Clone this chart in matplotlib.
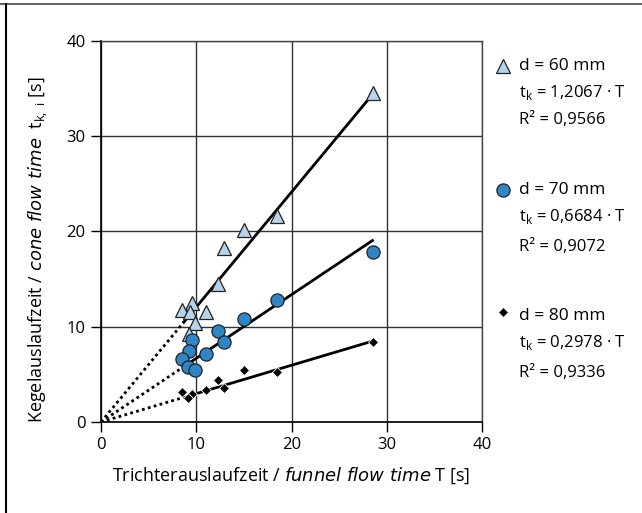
import matplotlib.pyplot as plt
from matplotlib.lines import Line2D

plt.rcParams['font.family'] = ['Open Sans', 'DejaVu Sans']

# d = 60 mm (triangles)
t60 = [28.6, 18.5, 15.05, 12.95, 12.3, 9.52, 8.47, 9.3, 11.0, 9.87, 9.2]
k60 = [34.5, 21.6, 20.2, 18.3, 14.5, 12.5, 11.8, 11.5, 11.6, 10.4, 9.2]
# d = 70 mm (circles)
t70 = [28.6, 18.5, 15.05, 12.3, 12.95, 11.0, 9.6, 9.24, 8.54, 9.17, 9.87]
k70 = [17.8, 12.8, 10.85, 9.6, 8.4, 7.1, 8.6, 7.5, 6.6, 5.8, 5.5]
# d = 80 mm (diamonds)
t80 = [28.6, 18.5, 15.05, 12.3, 12.95, 11.0, 8.54, 9.52, 9.17]
k80 = [8.4, 5.3, 5.5, 4.4, 3.6, 3.35, 3.1, 2.95, 2.5]

slopes = [1.2067, 0.6684, 0.2978]
r2 = ["0,9566", "0,9072", "0,9336"]
diam = [60, 70, 80]
fit_start = [8.7, 9.2, 9.5]
fit_end = [28.2, 28.5, 28.5]

fig = plt.figure(figsize=(6.42, 5.13), dpi=100)
ax = fig.add_axes([0.1573, 0.1774, 0.5935, 0.7427])

series = [
    (t60, k60, dict(marker='^', ms=10, mfc='#b5d3ea', mec='#222222', mew=0.9)),
    (t70, k70, dict(marker='o', ms=9.5, mfc='#2f86c6', mec='#222222', mew=0.9)),
    (t80, k80, dict(marker='D', ms=5.5, mfc='black', mec='white', mew=0.6)),
]

for i, (tx, ky, style) in enumerate(series):
    a, b = fit_start[i], fit_end[i]
    ax.plot([0, a], [0, slopes[i] * a], color='black', lw=2, ls=(0, (1, 1.2)), zorder=3)
    ax.plot([a, b], [slopes[i] * a, slopes[i] * b], color='black', lw=2, zorder=3)
    ax.plot(tx, ky, ls='none', zorder=4, **style)

ax.set_xlim(0, 40)
ax.set_ylim(0, 40)
ax.set_xticks([0, 10, 20, 30, 40])
ax.set_yticks([0, 10, 20, 30, 40])
ax.grid(True, color='#333333', lw=1)
ax.set_axisbelow(True)
for s in ['top', 'right']:
    ax.spines[s].set_color('#444444')
    ax.spines[s].set_linewidth(1)
for s in ['left', 'bottom']:
    ax.spines[s].set_color('black')
    ax.spines[s].set_linewidth(1.2)
ax.tick_params(direction='out', length=7, width=1, labelsize=12, pad=4)

ax.set_xlabel('Trichterauslaufzeit / $\\it{funnel\\ flow\\ time}$ T [s]', fontsize=13, labelpad=9)
ax.set_ylabel('Kegelauslaufzeit / $\\it{cone\\ flow\\ time}$  t$_\\mathregular{k,\\ i}$ [s]',
              fontsize=13, va='center')
ax.yaxis.set_label_coords(-0.165, 0.451)

# legend block on the right
W, H = 642, 513
blocks = [(66, 93, 120), (190, 217, 247), (316, 343, 373)]
for i, (y1, y2, y3) in enumerate(blocks):
    st = series[i][2]
    fig.add_artist(Line2D([503 / W], [1 - (y1 if i < 2 else y1 - 4) / H], ls='none',
                          transform=fig.transFigure, **st))
    fig.text(519 / W, 1 - y1 / H, f'd = {diam[i]} mm', fontsize=12.5, va='center')
    fig.text(519 / W, 1 - y2 / H,
             't$_\\mathregular{k}$ = ' + f'{slopes[i]:.4f}'.replace('.', ',') + ' · T',
             fontsize=12, va='center')
    fig.text(519 / W, 1 - y3 / H, 'R² = ' + r2[i], fontsize=12, va='center')

# frame lines around the figure
fig.add_artist(Line2D([0, 1], [1 - 3.5 / H, 1 - 3.5 / H], color='#666666', lw=1.5,
                      transform=fig.transFigure))
fig.add_artist(Line2D([6 / W, 6 / W], [0, 1 - 3.5 / H], color='black', lw=1.5,
                      transform=fig.transFigure))

fig.savefig('out.png', dpi=100)
